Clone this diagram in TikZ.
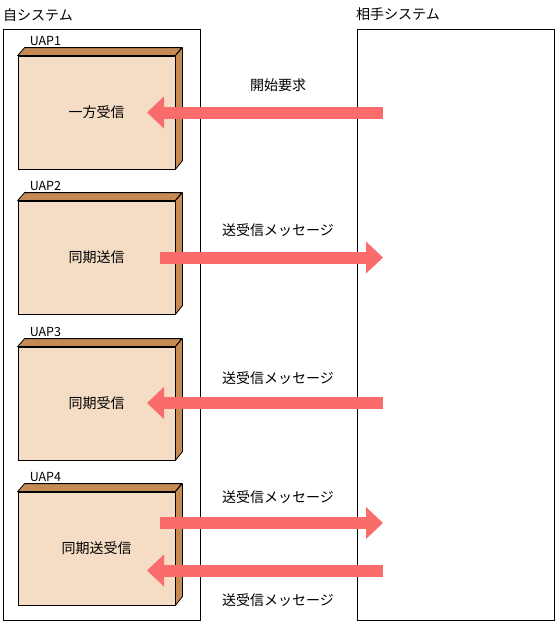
\documentclass[tikz,border=0pt]{standalone}
\usepackage{fontspec}
\setmainfont{Noto Sans CJK JP}
\usetikzlibrary{arrows.meta}
\definecolor{facecol}{RGB}{245,220,197}
\definecolor{sidecol}{RGB}{198,138,85}
\definecolor{msgcol}{RGB}{250,108,108}

\begin{document}
\begin{tikzpicture}[x=1pt,y=-1pt,
  sysframe/.style={draw,line width=0.8pt,minimum width=197pt,minimum height=591pt,anchor=north west,inner sep=0pt},
  uapbox/.style={draw,fill=facecol,line width=0.8pt,minimum width=157pt,minimum height=113pt,inner sep=0pt,font=\fontsize{14}{16}\selectfont},
  uapside/.style={draw,fill=sidecol,line width=0.8pt,line join=round},
  uaplabel/.style={anchor=south west,inner sep=0pt,font=\fontsize{12.5}{14}\selectfont},
  msglabel/.style={font=\fontsize{14}{16}\selectfont},
  msgarrow/.style={draw=msgcol,line width=12pt,-{Triangle[length=17pt,width=32pt,line width=0pt]}}]
  \useasboundingbox (0,0) rectangle (557,624);
  \fill[white] (0,0) rectangle (557,624);

  % the two systems
  \node[sysframe] (own) at (3,29) {};
  \node[sysframe] (peer) at (357,29) {};
  \node[msglabel,anchor=west,inner sep=0pt] at (3,15) {自システム};
  \node[msglabel,anchor=west,inner sep=0pt] at (356,14) {相手システム};

  % UAP boxes with depth
  \foreach \name/\cy/\txt [count=\i] in {uapA/112.5/一方受信, uapB/257.5/同期送信,
      uapC/403.5/同期受信, uapD/548.5/同期送受信} {
    \node[uapbox] (\name) at (96.5,\cy) {\txt};
    \draw[uapside] (\name.north west) -- ++(7,-8) -- ++(157,0) -- (\name.north east) -- cycle;
    \draw[uapside] (\name.north east) -- ++(7,-8) -- ++(0,113) -- (\name.south east) -- cycle;
    \node[uaplabel] at ([xshift=12pt,yshift=10pt]\name.north west) {UAP\i};
  }

  % message end points
  \coordinate (pA) at (383,112.5);
  \coordinate (qA) at (147,112.5);
  \coordinate (pB) at (383,257.5);
  \coordinate (qB) at (160,257.5);
  \coordinate (pC) at (383,403);
  \coordinate (qC) at (147,403);
  \coordinate (pD) at (383,523);
  \coordinate (qD) at (160,523);
  \coordinate (pE) at (383,570.5);
  \coordinate (qE) at (147,570.5);

  \draw[msgarrow] (pA) -- (qA);
  \draw[msgarrow] (qB) -- (pB);
  \draw[msgarrow] (pC) -- (qC);
  \draw[msgarrow] (qD) -- (pD);
  \draw[msgarrow] (pE) -- (qE);

  \node[msglabel] at (278,85) {開始要求};
  \node[msglabel] at (278,230) {送受信メッセージ};
  \node[msglabel] at (278,378) {送受信メッセージ};
  \node[msglabel] at (278,497) {送受信メッセージ};
  \node[msglabel] at (278,600) {送受信メッセージ};
\end{tikzpicture}
\end{document}
